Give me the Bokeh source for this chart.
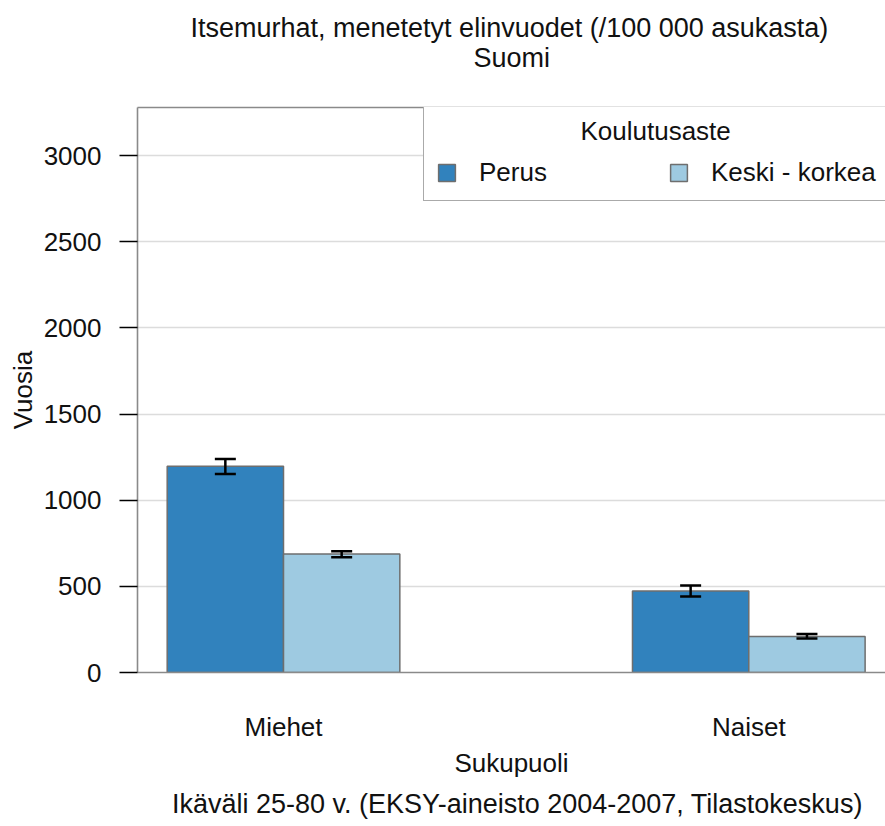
from bokeh.plotting import figure
from bokeh.models import (Range1d, FixedTicker, LinearAxis, Legend, LegendItem,
                          ColumnDataSource, Whisker, TeeHead, Title)
from bokeh.embed import file_html
from bokeh.resources import INLINE

# ---------------- data ----------------
categories = ["Miehet", "Naiset"]
groups = ["Perus", "Keski - korkea"]
perus = [1197, 473]
perus_low = [1153, 441]
perus_high = [1240, 505]
keski = [688, 209]
keski_low = [669, 197]
keski_high = [704, 224]
y_ticks = [0, 500, 1000, 1500, 2000, 2500, 3000]

title_text = "Itsemurhat, menetetyt elinvuodet (/100 000 asukasta)"
subtitle_text = "Suomi"
x_title = "Sukupuoli"
y_title = "Vuosia"
legend_title = "Koulutusaste"
caption_text = "Ikäväli 25-80 v. (EKSY-aineisto 2004-2007, Tilastokeskus)"

# ---------------- style ----------------
FONT = "Liberation Sans"
TXT = "#111111"
FS = "26px"
colors = ["#3182bd", "#9ecae1"]
FRAME_GREY = "#8a8a8a"
BAR_EDGE = "#6e6e6e"

pos = [i + 1 for i in range(len(categories))]
bw = 0.25

p = figure(width=885, height=826, output_backend="svg", toolbar_location=None,
           title=None,
           x_range=Range1d(0.6862, 2.2938), y_range=Range1d(0, 3280),
           min_border_left=137, min_border_right=0, min_border_top=107,
           min_border_bottom=154)
p.outline_line_color = None
p.background_fill_color = "white"
p.border_fill_color = "white"
p.xgrid.visible = False
p.ygrid.ticker = FixedTicker(ticks=y_ticks)
p.ygrid.grid_line_color = "#dcdcdc"
p.ygrid.grid_line_width = 1.5

src_p = ColumnDataSource(dict(x=[v - bw / 2 for v in pos], top=perus, lo=perus_low, hi=perus_high))
src_k = ColumnDataSource(dict(x=[v + bw / 2 for v in pos], top=keski, lo=keski_low, hi=keski_high))

r_p = p.vbar(x="x", top="top", bottom=0, width=bw, source=src_p,
             fill_color=colors[0], line_color=BAR_EDGE, line_width=1.5)
r_k = p.vbar(x="x", top="top", bottom=0, width=bw, source=src_k,
             fill_color=colors[1], line_color=BAR_EDGE, line_width=1.5)

for src in (src_p, src_k):
    w = Whisker(source=src, base="x", lower="lo", upper="hi", dimension="height",
                line_color="black", line_width=2.5, level="overlay",
                upper_head=TeeHead(size=21, line_color="black", line_width=2.5),
                lower_head=TeeHead(size=21, line_color="black", line_width=2.5))
    p.add_layout(w)

# ---------------- axes ----------------
yax = p.yaxis[0]
yax.ticker = FixedTicker(ticks=y_ticks)
yax.axis_line_color = FRAME_GREY
yax.axis_line_width = 1.6
yax.major_tick_line_color = "black"
yax.major_tick_line_width = 1.6
yax.major_tick_out = 18
yax.major_tick_in = 0
yax.minor_tick_line_color = None
yax.major_label_text_font = FONT
yax.major_label_text_font_size = FS
yax.major_label_text_color = TXT
yax.major_label_standoff = 18
yax.axis_label = y_title
yax.axis_label_text_font = FONT
yax.axis_label_text_font_size = FS
yax.axis_label_text_font_style = "normal"
yax.axis_label_text_color = TXT
yax.axis_label_standoff = 3

xax = p.xaxis[0]
xax.ticker = FixedTicker(ticks=pos)
xax.major_label_overrides = {pos[i]: categories[i] for i in range(len(categories))}
xax.axis_line_color = FRAME_GREY
xax.axis_line_width = 1.6
xax.major_tick_line_color = None
xax.minor_tick_line_color = None
xax.major_label_text_font = FONT
xax.major_label_text_font_size = FS
xax.major_label_text_color = TXT
xax.major_label_standoff = 33
xax.axis_label = x_title
xax.axis_label_text_font = FONT
xax.axis_label_text_font_size = FS
xax.axis_label_text_font_style = "normal"
xax.axis_label_text_color = TXT
xax.axis_label_standoff = 3

top_ax = LinearAxis(ticker=FixedTicker(ticks=[]), axis_line_color=FRAME_GREY,
                    axis_line_width=1.6, major_tick_line_color=None,
                    minor_tick_line_color=None, major_label_text_font_size="0px")
p.add_layout(top_ax, "above")

# ---------------- titles ----------------
t_sub = Title(text=subtitle_text, align="left", offset=336, standoff=70,
              text_font=FONT, text_font_size="27px", text_font_style="normal", text_color=TXT)
t_main = Title(text=title_text, align="left", offset=53, standoff=-74,
               text_font=FONT, text_font_size="27px", text_font_style="normal", text_color=TXT)
p.add_layout(t_sub, "above")
p.add_layout(t_main, "above")

t_cap = Title(text=caption_text, align="left", offset=34.5, standoff=13,
              text_font=FONT, text_font_size="27px", text_font_style="normal", text_color=TXT)
p.add_layout(t_cap, "below")

# ---------------- legend ----------------
# legend title centred over the box by leading no-break spaces
legend = Legend(items=[LegendItem(label=groups[0], renderers=[r_p]),
                       LegendItem(label=groups[1], renderers=[r_k])],
                orientation="horizontal", location=(286, 471),
                title="\u00a0" * 20 + legend_title,
                title_text_font_size=FS, title_text_font=FONT, title_text_color=TXT,
                title_text_font_style="normal", title_standoff=10,
                padding=12, spacing=8, label_width=181, label_standoff=22,
                glyph_width=21, glyph_height=21, margin=0,
                label_text_font=FONT, label_text_font_size=FS, label_text_color=TXT,
                label_text_baseline="middle",
                border_line_color="#555555", border_line_width=1.6,
                background_fill_color="white", background_fill_alpha=1.0)
p.add_layout(legend, "center")

open("out.html", "w").write(file_html(p, INLINE))
